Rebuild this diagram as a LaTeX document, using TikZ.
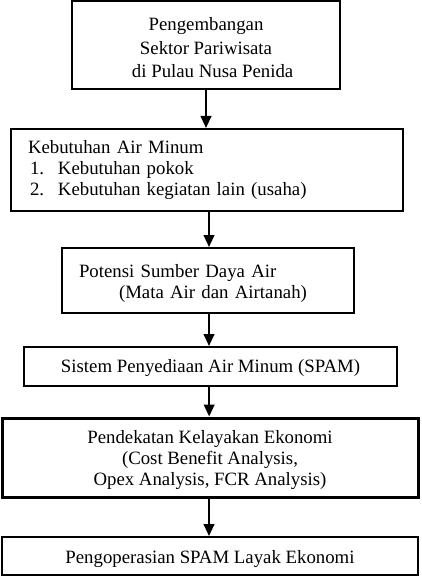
\documentclass[tikz,border=0pt]{standalone}
\usepackage{fontspec}
\setmainfont{Liberation Serif}
\usetikzlibrary{arrows.meta}

\tikzset{
  blok/.style={draw, line width=1.5pt, rectangle, inner sep=0pt, font=\fontsize{14.1}{15.8}\selectfont},
  panah/.style={line width=1.5pt, -{Triangle[width=8pt,length=9pt]}}
}

\begin{document}
\begin{tikzpicture}[x=0.75pt,y=0.75pt,yscale=-1,xscale=1]
\useasboundingbox (0,0) rectangle (421,577);

%Shape: Rectangle
\node [blok, minimum width=201pt, minimum height=66pt, align=center, font=\fontsize{14.1}{17.5}\selectfont] (pengembangan) at (206,45) {\rule{0pt}{14pt}Pengembangan\\Sektor Pariwisata\\\hspace*{10pt}di Pulau Nusa Penida};
%Shape: Rectangle
\node [blok, minimum width=294pt, minimum height=61.5pt, align=left, text width=268.5pt] (kebutuhan) at (207,170) {Kebutuhan Air Minum\\\hspace*{1.5pt}\makebox[21pt][l]{1.}Kebutuhan pokok\\\hspace*{1.5pt}\makebox[21pt][l]{2.}Kebutuhan kegiatan lain (usaha)};
%Shape: Rectangle
\node [blok, minimum width=219pt, minimum height=48.75pt, align=left, text width=193.5pt] (potensi) at (208,280.5) {\rule{0pt}{14pt}Potensi Sumber Daya Air\\\hspace*{30pt}(Mata Air dan Airtanah)};
%Shape: Rectangle
\node [blok, minimum width=279.75pt, minimum height=29.25pt, text height=12.5pt] (spam) at (210.5,366.5) {Sistem Penyediaan Air Minum (SPAM)};
%Shape: Rectangle
\node [blok, line width=2.25pt, minimum width=312pt, minimum height=59.25pt, align=center] (kelayakan) at (210,457.5) {\rule{0pt}{13pt}Pendekatan Kelayakan Ekonomi\\(Cost Benefit Analysis,\\Opex Analysis, FCR Analysis)};
%Shape: Rectangle
\node [blok, minimum width=312pt, minimum height=28.5pt, text height=14pt] (operasi) at (210,556) {Pengoperasian SPAM Layak Ekonomi};

%Straight Lines
\draw [panah] (pengembangan.south) -- (pengembangan.south |- kebutuhan.north);
\draw [panah] ([xshift=1.5pt]kebutuhan.south) -- ([xshift=1.5pt]kebutuhan.south |- potensi.north);
\draw [panah] ([xshift=0.75pt]potensi.south) -- ([xshift=0.75pt]potensi.south |- spam.north);
\draw [panah] ([xshift=-1pt]spam.south) -- ([xshift=-1pt]spam.south |- kelayakan.north);
\draw [panah] ([xshift=-0.75pt]kelayakan.south) -- ([xshift=-0.75pt]kelayakan.south |- operasi.north);

\end{tikzpicture}
\end{document}
